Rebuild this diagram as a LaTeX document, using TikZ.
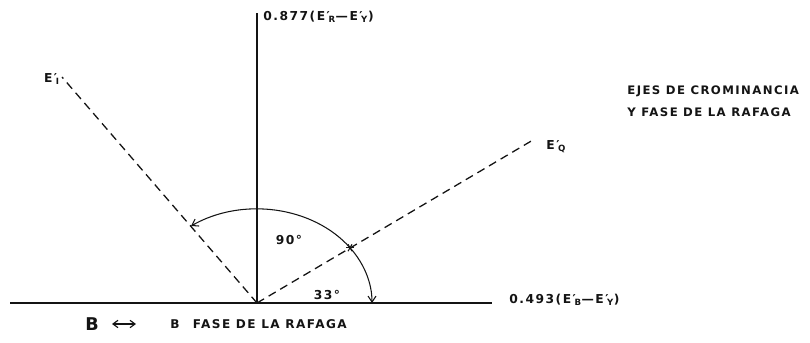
\documentclass[tikz,border=0pt]{standalone}
\usepackage{fontspec}
\usepackage{xcolor}
\usepackage{tikz}
\usetikzlibrary{arrows.meta}
\setmainfont{DejaVu Sans}
\newfontfamily\plotfont{DejaVu Sans}[LetterSpace=12]
\definecolor{inkBlack}{HTML}{141414}
\newcommand{\Eprime}[1]{E′\kern-1.2pt\textsubscript{#1}}
\tikzset{
  axisline/.style={draw=inkBlack, line width=1.2pt},
  phasorline/.style={draw=inkBlack, line width=1.1pt, dash pattern=on 7pt off 4.5pt},
  anglearc/.style={draw=inkBlack, line width=0.9pt, -{Straight Barb[length=1.8mm,width=2.4mm]}},
  marktick/.style={draw=inkBlack, line width=0.9pt},
  swaparrow/.style={draw=inkBlack, line width=1pt, {Straight Barb[length=1.5mm,width=2.2mm]}-{Straight Barb[length=1.5mm,width=2.2mm]}},
  % --- text styles ---
  axislabel/.style={font=\plotfont\bfseries\fontsize{10.5}{12}\selectfont, text=inkBlack, inner sep=1pt},
  titlelabel/.style={font=\plotfont\bfseries\fontsize{10}{18.7}\selectfont, text=inkBlack, align=left, inner sep=1pt},
  legendlabel/.style={font=\plotfont\bfseries\fontsize{10.3}{12}\selectfont, text=inkBlack, inner sep=1pt},
  legendbig/.style={font=\bfseries\fontsize{15}{17}\selectfont, text=inkBlack, inner sep=1pt},
}
\begin{document}
\begin{tikzpicture}[x=0.03cm,y=0.03cm]
      \useasboundingbox (0,0) rectangle (810,343);

      \coordinate (O) at (257,40);
      \coordinate (hstart) at (10,40);
      \coordinate (hend) at (492,40);
      \coordinate (vtop) at (257,330);
      \coordinate (itip) at (62,266);
      \coordinate (qtip) at (533,203);

      \draw[axisline] (hstart) -- (hend);
      \draw[axisline] (O) -- (vtop);
      \draw[phasorline] (O) -- (itip);
      \draw[phasorline] (O) -- (qtip);

      \node[axislabel, anchor=west] (vlabel) at (262,326) {0.877(\Eprime{R}—\Eprime{Y})};
      \node[axislabel, anchor=west] (hlabel) at (508,43) {0.493(\Eprime{B}—\Eprime{Y})};
      \node[axislabel, anchor=east] (ilabel) at (61,264) {\Eprime{I}};
      \node[axislabel, anchor=west] (qlabel) at (545,196) {\Eprime{Q}};
      \node[titlelabel, anchor=west] (title) at (626,242) {EJES DE CROMINANCIA \\ Y FASE DE LA RAFAGA};

      \path (O) ++(36:115 and 94) coordinate (burstmark);
      \draw[anglearc] (burstmark) arc[start angle=36, end angle=125, x radius=115, y radius=94];
      \draw[anglearc] (burstmark) arc[start angle=36, end angle=0, x radius=115, y radius=94];
      \foreach \ang in {0,60,120}
        \draw[marktick] (burstmark) ++(\ang:4) -- ++(\ang+180:8);

      \node[axislabel] (rightangle) at (289,103) {90°};
      \node[axislabel] (burstangle) at (327,48) {33°};

      \node[legendbig] (bsym) at (92,19) {B};
      \coordinate (swapL) at (112,19);
      \coordinate (swapR) at (136,19);
      \draw[swaparrow] (swapL) -- (swapR);
      \node[legendlabel, anchor=west] (burst) at (169,19) {B\hspace{1.1em}FASE DE LA RAFAGA};
    \end{tikzpicture}
\end{document}
